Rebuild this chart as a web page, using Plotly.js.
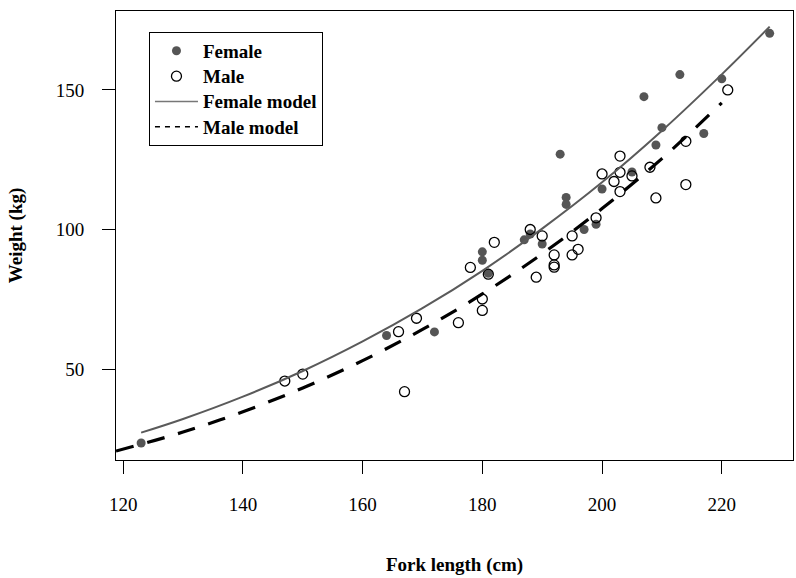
<!DOCTYPE html>
<html>
<head>
<meta charset="utf-8">
<script src="https://cdn.plot.ly/plotly-3.0.1.min.js"></script>
<style>html,body{margin:0;padding:0;background:#fff;}#chart{width:796px;height:578px;}</style>
</head>
<body>
<div id="chart"></div>
<script>
// Female observations
const femaleLength = [123,164,172,180,180,181,187,188,190,193,194,194,197,199,200,205,207,209,210,213,217,220,228];
const femaleWeight = [23.5,62,63.3,92,89,84.3,96.3,98.4,94.8,127,111.5,109,100,101.9,114.5,120.6,147.6,130.3,136.5,155.5,134.4,154,170.3];
// Male observations
const maleLength = [147,150,166,167,169,176,178,180,180,181,182,188,189,190,192,192,192,195,195,196,199,200,202,203,203,203,205,208,209,214,214,221];
const maleWeight = [45.7,48.2,63.4,41.9,68.2,66.6,86.4,75.1,71,84,95.4,100,82.9,97.7,90.9,87.3,86.5,97.7,90.9,92.9,104.2,119.9,117.2,126.3,120.5,113.6,119.2,122.3,111.3,116.1,131.6,150];
// Model curves
const femaleModelLength = [123,130,140,150,160,170,180,190,200,210,220,228];
const femaleModelWeight = [27.2,32.1,40.1,49.3,59.9,71.8,85.2,100.3,116.9,135.4,155.6,172.7];
const maleModelLength = [118.8,130,140,150,160,170,180,190,200,210,220];
const maleModelWeight = [20.6,27.4,34.7,43.2,53.0,64.2,76.9,91.3,107.5,125.4,145.4];
// Legend labels
const legendLabels = ['Female', 'Male', 'Female model', 'Male model'];

const serif = '"Liberation Serif", "DejaVu Serif", serif';
const gray = '#555555';
const lbl = t => '<span style="font-size:19px">' + t + '</span>';

const traces = [
  {x: femaleLength, y: femaleWeight, type: 'scatter', mode: 'markers', name: lbl(legendLabels[0]),
   marker: {symbol: 'circle', size: 9, color: gray, line: {width: 0}}},
  {x: maleLength, y: maleWeight, type: 'scatter', mode: 'markers', name: lbl(legendLabels[1]),
   marker: {symbol: 'circle-open', size: 10, color: '#000', line: {width: 1.3, color: '#000'}}},
  {x: femaleModelLength, y: femaleModelWeight, type: 'scatter', mode: 'lines', name: legendLabels[2],
   line: {color: '#5a5a5a', width: 2, shape: 'spline'}, showlegend: false},
  {x: maleModelLength, y: maleModelWeight, type: 'scatter', mode: 'lines', name: legendLabels[3],
   line: {color: '#000', width: 3.2, dash: '18px,14px', shape: 'spline'}, showlegend: false},
  // legend-only entries (thin lines as in the reference legend)
  {x: [null], y: [null], type: 'scatter', mode: 'lines', name: lbl(legendLabels[2]),
   line: {color: '#777777', width: 1.5}},
  {x: [null], y: [null], type: 'scatter', mode: 'lines', name: lbl(legendLabels[3]),
   line: {color: '#000', width: 1.5, dash: '5px,5px'}}
];

const layout = {
  width: 796, height: 578,
  margin: {l: 116, r: 3, t: 11, b: 118},
  paper_bgcolor: '#fff', plot_bgcolor: '#fff',
  font: {family: serif, size: 19, color: '#000'},
  showlegend: true,
  legend: {x: 0.0487, y: 0.953, xanchor: 'left', yanchor: 'top',
    bordercolor: '#000', borderwidth: 1, bgcolor: '#fff',
    font: {family: serif, size: 17.2, color: '#000', weight: 'bold'},
    itemwidth: 43, tracegroupgap: 0},
  xaxis: {range: [118.8, 231.9], tickvals: [120,140,160,180,200,220],
    showgrid: false, zeroline: false, showline: true, mirror: true, linecolor: '#000', linewidth: 1,
    ticks: 'outside', ticklen: 13, tickwidth: 1, tickcolor: '#000', ticklabelstandoff: 14,
    tickfont: {family: serif, size: 19},
    title: {text: 'Fork length (cm)', font: {family: serif, size: 19, weight: 'bold'}, standoff: 43}},
  yaxis: {range: [17.4, 178.3], tickvals: [50,100,150],
    showgrid: false, zeroline: false, showline: true, mirror: true, linecolor: '#000', linewidth: 1,
    ticks: 'outside', ticklen: 13, tickwidth: 1, tickcolor: '#000', ticklabelstandoff: 14,
    tickfont: {family: serif, size: 19},
    title: {text: 'Weight (kg)', font: {family: serif, size: 19, weight: 'bold'}, standoff: 28}}
};

Plotly.newPlot('chart', traces, layout, {displayModeBar: false, staticPlot: true});
</script>
</body>
</html>
